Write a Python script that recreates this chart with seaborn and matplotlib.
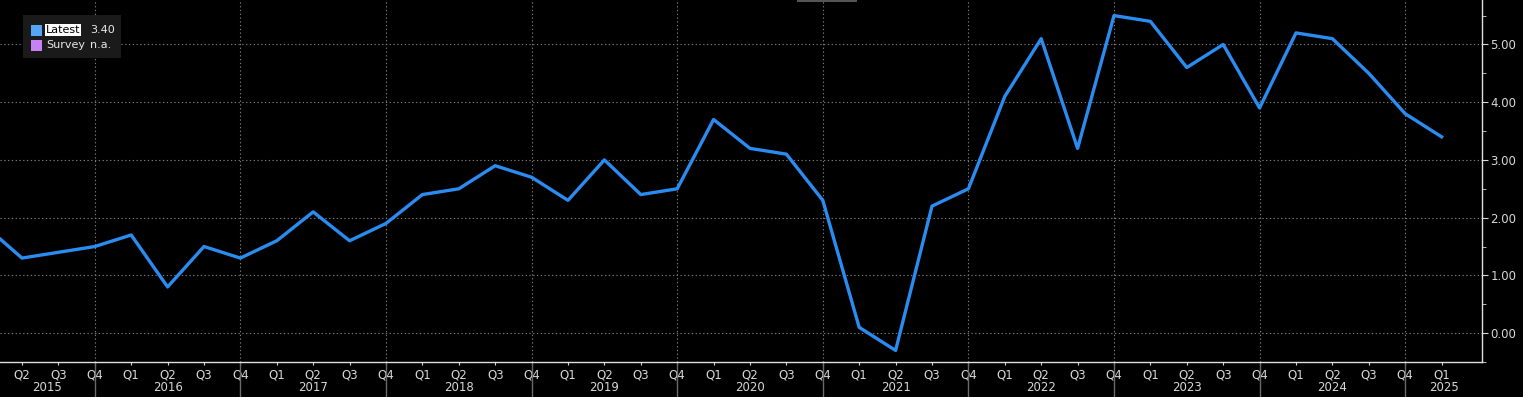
import matplotlib
matplotlib.use("Agg")
import matplotlib.pyplot as plt
import matplotlib.transforms as mtransforms
from matplotlib.patches import Rectangle
import pandas as pd
import seaborn as sns

# quarterly readings, Q1 2015 .. Q1 2025
years = list(range(2015, 2026))
quarters = ["Q1", "Q2", "Q3", "Q4"]
values = [1.85, 1.3, 1.4, 1.5,
          1.7, 0.8, 1.5, 1.3,
          1.6, 2.1, 1.6, 1.9,
          2.4, 2.5, 2.9, 2.7,
          2.3, 3.0, 2.4, 2.5,
          3.7, 3.2, 3.1, 2.3,
          0.1, -0.3, 2.2, 2.5,
          4.1, 5.1, 3.2, 5.5,
          5.4, 4.6, 5.0, 3.9,
          5.2, 5.1, 4.5, 3.8,
          3.4]
latest_label = "3.40"
survey_label = "n.a."

labels = [(y, q) for y in years for q in quarters][:len(values)]
df = pd.DataFrame({"idx": range(len(values)),
                   "year": [l[0] for l in labels],
                   "quarter": [l[1] for l in labels],
                   "value": values})

W, H = 1523, 397
fig = plt.figure(figsize=(W / 100, H / 100), dpi=100)
fig.patch.set_facecolor("black")
ax = fig.add_axes([0, 35 / H, 1482 / W, 362 / H])
ax.set_facecolor("black")

sns.lineplot(data=df, x="idx", y="value", ax=ax, color="#2a8cf0", linewidth=2.4)

ax.set_xlim(0.396, 41.11)
ax.set_ylim(-0.45, 5.77)
ax.set_xlabel("")
ax.set_ylabel("")

grid_kw = dict(color="#7a7a7a", linestyle=(0, (1.2, 2.2)), linewidth=0.8, zorder=0)
for yv in range(0, 6):
    ax.axhline(yv, **grid_kw)
q4_idx = df.loc[df["quarter"] == "Q4", "idx"].tolist()
for xv in q4_idx:
    ax.axvline(xv, **grid_kw)

# y axis on the right
ax.yaxis.tick_right()
ax.set_yticks(range(0, 6))
ax.set_yticklabels([f"{v:.2f}" for v in range(0, 6)])
ax.set_yticks([v + 0.5 for v in range(-1, 6)], minor=True)
ax.tick_params(axis="y", which="both", colors="#d8d8d8", labelsize=8.5, direction="out")
ax.tick_params(axis="y", which="major", length=4, pad=2)
ax.tick_params(axis="y", which="minor", length=3)

# quarter labels on x
ax.set_xticks(df["idx"][1:])
ax.set_xticklabels(df["quarter"][1:])
ax.tick_params(axis="x", colors="#d8d8d8", labelsize=8.5, length=2, pad=3)

for side in ["top", "left"]:
    ax.spines[side].set_visible(False)
for side in ["bottom", "right"]:
    ax.spines[side].set_color("#e0e0e0")
    ax.spines[side].set_linewidth(1)

# year labels and separators under the axis
trans = mtransforms.blended_transform_factory(ax.transData, ax.transAxes)
bounds = [ax.get_xlim()[0]] + q4_idx + [ax.get_xlim()[1]]
for i, yr in enumerate(years):
    left, right = bounds[i], bounds[i + 1]
    ax.text((left + right) / 2, -0.07, str(yr), transform=trans, ha="center", va="center",
            color="#d8d8d8", fontsize=8.5, clip_on=False)
for xv in q4_idx:
    ax.plot([xv, xv], [0, -0.097], transform=trans, color="#6a6a6a", linewidth=1, clip_on=False)

# legend box
def px(x, y):
    return x / W, 1 - y / H

fig.patches.append(Rectangle(px(23, 58), 98 / W, 43 / H, transform=fig.transFigure,
                             facecolor="#1a1a1a", edgecolor="none", zorder=5))
fig.patches.append(Rectangle(px(31, 36), 11 / W, 11 / H, transform=fig.transFigure,
                             facecolor="#55a5f5", edgecolor="none", zorder=6))
fig.patches.append(Rectangle(px(31, 51), 11 / W, 11 / H, transform=fig.transFigure,
                             facecolor="#c880f5", edgecolor="none", zorder=6))
fig.text(*px(46, 30), "Latest", color="black", fontsize=8, va="center", ha="left", zorder=7,
         bbox=dict(facecolor="white", edgecolor="none", pad=0.6))
fig.text(*px(90, 30), latest_label, color="#e8e8e8", fontsize=8, va="center", ha="left", zorder=7)
fig.text(*px(46, 45), "Survey", color="#e8e8e8", fontsize=8, va="center", ha="left", zorder=7)
fig.text(*px(90, 45), survey_label, color="#e8e8e8", fontsize=8, va="center", ha="left", zorder=7)

# small marker at top centre
fig.patches.append(Rectangle(px(797, 2), 60 / W, 2 / H, transform=fig.transFigure,
                             facecolor="#555555", edgecolor="none", zorder=5))

fig.savefig("out.png", dpi=100, facecolor="black")
